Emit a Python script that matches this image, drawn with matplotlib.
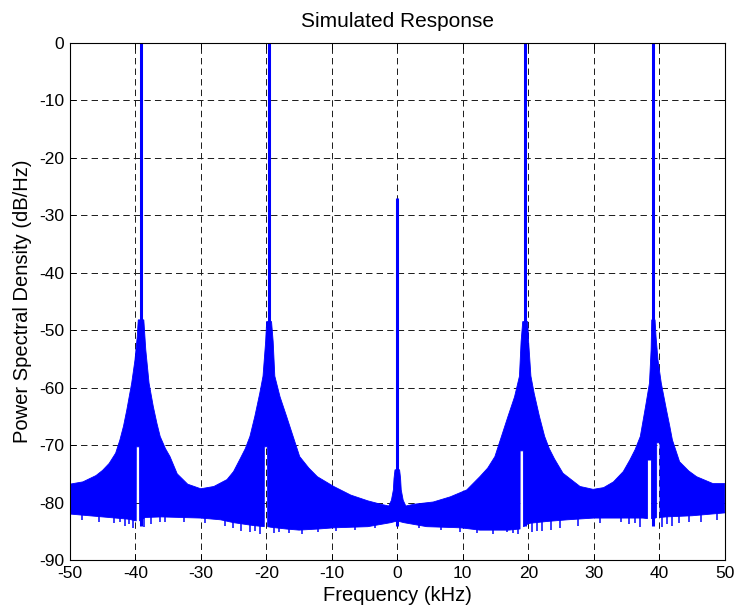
import numpy as np
import matplotlib
matplotlib.use("Agg")
import matplotlib.pyplot as plt

# ---------------- data ----------------
# upper envelope of the dense PSD band (kHz, dB/Hz)
upper_f = [-50, -48, -46, -45, -44, -43, -42.35, -41.8, -41.3, -40.55, -40.05, -39.7, -39.55,
           -38.7, -38.4, -37.9, -37.25, -36.7, -36.2, -35.4, -34.7, -33.6, -32, -30, -28,
           -26, -25, -24, -23.2, -22.5, -21.75, -21.0, -20.5, -20.1, -19.95,
           -19.2, -18.95, -18.7, -17.9, -16.9, -15.9, -14.9, -13.5, -12.2,
           -9.7, -7.1, -4.5, -2.5, -1.3, -0.9, -0.6, -0.5, -0.35,
           0.35, 0.5, 0.6, 0.9, 1.3, 2.5, 5.5, 8.1, 10.6, 12.6, 13.8, 14.9,
           15.9, 16.9, 17.9, 18.65, 18.9, 19.15,
           19.9, 20.05, 20.4, 20.9, 21.7, 22.5, 23.2, 24.0, 25.3, 27.9, 29.9,
           31.5, 33.0, 34.5, 35.5, 36.3, 37.1, 37.9, 38.5, 38.75, 38.85,
           39.35, 39.5, 39.8, 40.3, 41.1, 41.6, 42.0, 43.1, 44.5, 45.7, 48.2, 50]
upper_db = [-76.8, -76.4, -75.3, -74.4, -73.2, -71.4, -69.1, -66.7, -63.9, -59.2, -55.2, -51.1, -48.2,
            -48.2, -53.4, -59.2, -63.3, -66.2, -68.5, -70.6, -72.0, -75.0, -76.8, -77.6, -77.2,
            -76.0, -74.6, -72.4, -70.6, -68.5, -65.0, -61.0, -58.0, -52.0, -48.5,
            -48.5, -52.0, -58.0, -61.6, -65.0, -68.5, -72.0, -74.0, -75.5,
            -77.2, -78.7, -79.7, -80.3, -80.6, -79.6, -77.8, -75.8, -74.3,
            -74.3, -75.8, -77.8, -79.6, -80.6, -80.3, -79.9, -79.0, -77.8, -75.5, -74.0, -72.0,
            -68.5, -65.0, -61.6, -58.0, -52.0, -48.5,
            -48.5, -52.0, -58.0, -61.0, -65.0, -68.5, -70.6, -72.4, -74.9, -77.2, -77.7,
            -77.4, -76.4, -74.6, -72.6, -70.8, -68.5, -63.3, -59.2, -53.4, -48.2,
            -48.2, -51.1, -55.2, -59.2, -63.9, -66.7, -69.1, -72.9, -74.5, -75.5, -76.7, -76.7]

# lower envelope of the band, with the white notches beside the carriers
lower_f = [-50, -47, -44, -41, -39.86, -39.85, -39.35, -39.34, -38.5, -36, -33,
           -30, -27, -25, -22, -20.31, -20.3, -19.8, -19.79, -19.3, -17, -15,
           -12, -9.7, -4.5, -1.0, 0.0, 1.0, 4.5, 9.7, 12.6, 17, 18.74, 18.75,
           19.25, 19.26, 19.8, 20.3, 22.8, 26, 30, 34, 37.5, 38.19, 38.2, 38.8,
           38.81, 39.4, 39.59, 39.6, 40.1, 40.11, 41, 45, 50]
lower_db = [-82.0, -82.3, -82.6, -82.9, -83.2, -70.3, -70.3, -83.2, -82.6, -82.5, -82.6,
            -82.7, -83.0, -83.5, -84.0, -84.2, -70.3, -70.3, -84.2, -84.3, -84.6, -84.8,
            -84.6, -84.4, -84.2, -83.5, -83.2, -83.5, -84.2, -84.4, -84.8, -84.8, -84.6, -71.0,
            -71.0, -84.2, -83.8, -83.6, -83.3, -83.0, -82.7, -82.7, -82.7, -82.8, -72.6, -72.6,
            -82.8, -82.7, -82.6, -69.6, -69.6, -82.6, -82.5, -82.3, -81.8]

# downward spikes below the band floor (kHz, dB/Hz at spike tip)
spike_f = [-48.1, -45.5, -43.3, -42.4, -41.5, -40.9, -40.35,
           -38.6, -37.6, -36.3, -35.4, -32.5, -29.3, -26.3,
           -25.1, -23.9, -22.5, -21.8, -21.0, -18.9, -18.1,
           -16.6, -14.5, -12.1, -9.4, -6.5, -3.4,
           3.3, 6.6, 9.5, 12.2, 14.6, 16.7, 17.6, 18.4,
           20.6, 21.3, 22.1, 23.4, 24.8, 27.6, 31.0, 34.1, 35.3, 36.3, 37.1,
           40.4, 41.2, 42.0, 43.0, 44.6, 46.4, 48.8]
spike_db = [-83.1, -83.3, -83.6, -83.4, -84.0, -83.8, -84.4,
            -84.2, -83.7, -83.4, -83.3, -83.4, -83.6, -84.1,
            -84.5, -84.9, -85.1, -84.9, -85.4, -85.3, -85.1,
            -85.3, -85.4, -85.2, -85.0, -84.8, -84.4,
            -84.4, -84.8, -85.1, -85.3, -85.4, -85.2, -85.3, -85.4,
            -85.2, -84.9, -85.0, -84.8, -84.5, -84.0, -83.5, -83.4, -83.8, -83.6, -84.2,
            -84.3, -83.8, -84.0, -83.5, -83.4, -83.3, -83.0]

# carrier lines (kHz) and their tops (dB/Hz; the four large ones exceed 0 dB)
carrier_f = [-39.13, -19.57, 0.0, 19.53, 39.08]
carrier_top = [5.0, 5.0, -26.9, 5.0, 5.0]
carrier_base = -84.0

xticks = [-50, -40, -30, -20, -10, 0, 10, 20, 30, 40, 50]
yticks = [-90, -80, -70, -60, -50, -40, -30, -20, -10, 0]

# ---------------- figure ----------------
plt.rcParams['font.family'] = ['Liberation Sans', 'DejaVu Sans']
plt.rcParams['lines.scale_dashes'] = False

fig = plt.figure(figsize=(7.36, 6.11), dpi=100)
ax = fig.add_axes([69.8 / 736, 51 / 611, 655 / 736, 517 / 611])

blue = '#0000FF'
ax.fill(np.r_[upper_f, lower_f[::-1]], np.r_[upper_db, lower_db[::-1]],
        color=blue, lw=0.6, zorder=3)
ax.vlines(spike_f, -81.5, spike_db, colors=blue, lw=1.1, zorder=3)
ax.vlines(carrier_f, carrier_base, carrier_top, colors=blue, lw=2.2, zorder=4)

ax.set_xlim(-50, 50)
ax.set_ylim(-90, 0)
ax.set_xticks(xticks)
ax.set_yticks(yticks)
ax.set_xticklabels([str(t) for t in xticks])
ax.set_yticklabels([str(t) for t in yticks])

ax.grid(True, color='0.1', lw=0.7, linestyle=(0, (4.6, 3.0)), zorder=1)
ax.set_axisbelow(True)
ax.tick_params(direction='in', length=4.5, width=0.7, top=True, right=True,
               labelsize=12.5, pad=4, colors='black')
for s in ax.spines.values():
    s.set_linewidth(0.8)
    s.set_zorder(5)

ax.set_xlabel('Frequency (kHz)', fontsize=14.5)
ax.xaxis.set_label_coords(0.5, -0.05)
ax.set_ylabel('Power Spectral Density (dB/Hz)', fontsize=14.5)
ax.yaxis.set_label_coords(-0.058, 0.5)
ax.text(0.5, 1.031, 'Simulated Response', transform=ax.transAxes,
        ha='center', va='baseline', fontsize=15)

fig.savefig('out.png', dpi=100)
